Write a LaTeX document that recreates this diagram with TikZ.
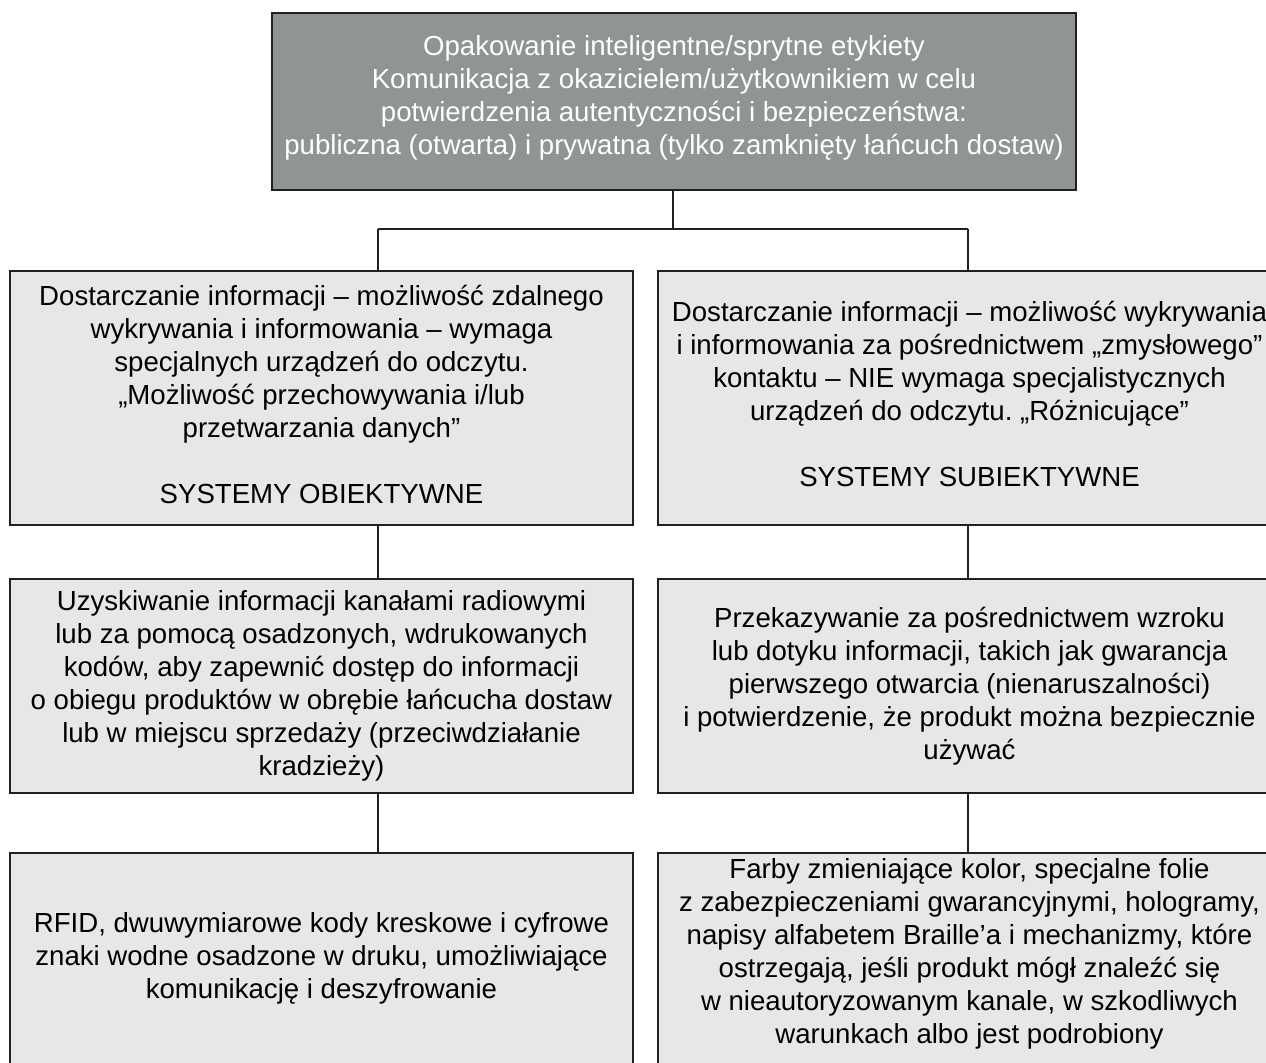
\documentclass[tikz,border=0pt]{standalone}
\usepackage{fontspec}
\setmainfont{Liberation Sans}
\usepackage{xcolor}
\usetikzlibrary{positioning}
\frenchspacing

\definecolor{topgray}{RGB}{145,148,148}
\definecolor{boxgray}{RGB}{230,231,230}
\definecolor{linegray}{RGB}{35,31,32}

\begin{document}
\begin{tikzpicture}[x=0.5pt, y=-0.5pt,
    box/.style={rectangle, draw=linegray, line width=0.8pt, fill=boxgray, align=center,
        minimum width=311.5pt, inner sep=0pt, font=\fontsize{13.8}{16.5}\selectfont},
    topbox/.style={box, fill=topgray, text=white, minimum width=402pt, minimum height=88.5pt},
    conn/.style={draw=linegray, line width=0.8pt}]

    \clip (0,0) rectangle (1266,1063);

    % Main box
    \node[topbox, text depth=6.5pt] (smart) at (674,101.5) {Opakowanie inteligentne/sprytne etykiety\\
        Komunikacja z okazicielem/użytkownikiem w celu\\
        potwierdzenia autentyczności i bezpieczeństwa:\\
        publiczna (otwarta) i prywatna (tylko zamknięty łańcuch dostaw)};

    % Objective and subjective systems
    \node[box, minimum height=127pt, text depth=4pt] (remoteinfo) at (321.5,398) {Dostarczanie informacji – możliwość zdalnego\\
        wykrywania i informowania – wymaga\\
        specjalnych urządzeń do odczytu.\\
        „Możliwość przechowywania i/lub\\
        przetwarzania danych”\\[16.5pt]
        SYSTEMY OBIEKTYWNE};
    \node[box, minimum height=127pt, text depth=4pt] (sensoryinfo) at (969.5,398) {Dostarczanie informacji – możliwość wykrywania\\
        i informowania za pośrednictwem „zmysłowego”\\
        kontaktu – NIE wymaga specjalistycznych\\
        urządzeń do odczytu. „Różnicujące”\\[16.5pt]
        SYSTEMY SUBIEKTYWNE};

    % How the information is passed on
    \node[box, minimum height=107pt] (radiochan) at (321.5,686) {Uzyskiwanie informacji kanałami radiowymi\\
        lub za pomocą osadzonych, wdrukowanych\\
        kodów, aby zapewnić dostęp do informacji\\
        o obiegu produktów w obrębie łańcucha dostaw\\
        lub w miejscu sprzedaży (przeciwdziałanie\\
        kradzieży)};
    \node[box, minimum height=107pt] (visualtouch) at (969.5,686) {Przekazywanie za pośrednictwem wzroku\\
        lub dotyku informacji, takich jak gwarancja\\
        pierwszego otwarcia (nienaruszalności)\\
        i potwierdzenie, że produkt można bezpiecznie\\
        używać};

    % Examples
    \node[box, minimum height=111pt, text depth=8.5pt] (rfid) at (321.5,964) {RFID, dwuwymiarowe kody kreskowe i cyfrowe\\
        znaki wodne osadzone w druku, umożliwiające\\
        komunikację i deszyfrowanie};
    \node[box, minimum height=111pt, text depth=12.5pt] (inks) at (969.5,964) {Farby zmieniające kolor, specjalne folie\\
        z zabezpieczeniami gwarancyjnymi, hologramy,\\
        napisy alfabetem Braille’a i mechanizmy, które\\
        ostrzegają, jeśli produkt mógł znaleźć się\\
        w nieautoryzowanym kanale, w szkodliwych\\
        warunkach albo jest podrobiony};

    % Connectors
    \coordinate (split) at (673,229);
    \coordinate (objL) at (378,229);
    \coordinate (subjR) at (968,229);
    \draw[conn] (smart.south -| split) -- (split);
    \draw[conn] (objL) -- (subjR);
    \draw[conn] (objL) -- (objL |- remoteinfo.north);
    \draw[conn] (subjR) -- (subjR |- sensoryinfo.north);
    \foreach \a/\b/\c in {remoteinfo/radiochan/objL, radiochan/rfid/objL,
        sensoryinfo/visualtouch/subjR, visualtouch/inks/subjR} {
        \draw[conn] (\a.south -| \c) -- (\b.north -| \c);
    }
\end{tikzpicture}
\end{document}
